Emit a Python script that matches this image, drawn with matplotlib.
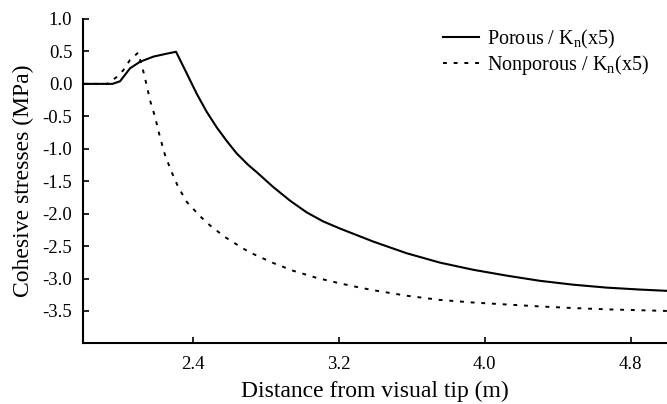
import numpy as np
import matplotlib
matplotlib.use('Agg')
import matplotlib.pyplot as plt

# values
porous_x = [1.80, 1.96, 2.001, 2.056, 2.11, 2.184, 2.248, 2.308, 2.367, 2.421, 2.476,
            2.531, 2.586, 2.64, 2.704, 2.75, 2.841, 2.933, 3.024, 3.115, 3.207, 3.298,
            3.389, 3.572, 3.755, 3.937, 4.12, 4.302, 4.485, 4.668, 4.85, 5.0]
porous_y = [0.0, 0.0, 0.04, 0.24, 0.34, 0.42, 0.46, 0.495, 0.16, -0.15, -0.43,
            -0.67, -0.88, -1.07, -1.25, -1.36, -1.59, -1.80, -1.98, -2.12, -2.23, -2.33,
            -2.43, -2.61, -2.755, -2.865, -2.955, -3.035, -3.095, -3.14, -3.17, -3.19]

nonporous_x = [1.80, 1.93, 1.98, 2.019, 2.056, 2.10, 2.129, 2.147, 2.165, 2.193, 2.22,
               2.248, 2.284, 2.32, 2.367, 2.44, 2.494, 2.576, 2.677, 2.73, 2.84, 2.95,
               3.079, 3.207, 3.316, 3.389, 3.572, 3.755, 3.937, 4.12, 4.30, 4.485,
               4.668, 5.0]
nonporous_y = [0.0, 0.0, 0.10, 0.21, 0.37, 0.48, 0.19, -0.02, -0.25, -0.51, -0.82,
               -1.10, -1.36, -1.59, -1.82, -2.04, -2.18, -2.36, -2.54, -2.62, -2.76, -2.88,
               -2.99, -3.075, -3.14, -3.18, -3.265, -3.33, -3.37, -3.40, -3.43, -3.455,
               -3.475, -3.50]

x_ticks = [2.4, 3.2, 4.0, 4.8]
y_ticks = [-3.5, -3.0, -2.5, -2.0, -1.5, -1.0, -0.5, 0.0, 0.5, 1.0]

plt.rcParams['font.family'] = ['Liberation Serif', 'DejaVu Serif']
plt.rcParams['mathtext.fontset'] = 'custom'
plt.rcParams['mathtext.rm'] = 'Liberation Serif'
plt.rcParams['mathtext.it'] = 'Liberation Serif'

fig = plt.figure(figsize=(6.67, 4.04), dpi=100)
ax = fig.add_axes([0.125, 0.150, 0.875, 0.803])

ax.plot(porous_x, porous_y, color='black', lw=1.5, label=r'Porous / K$_\mathrm{n}$(x5)')
ax.plot(nonporous_x, nonporous_y, color='black', lw=1.4, linestyle=(0, (2, 3.5)),
        label=r'Nonporous / K$_\mathrm{n}$(x5)')

ax.set_xlim(1.8, 5.0)
ax.set_ylim(-4.0, 1.0)
ax.set_xticks(x_ticks)
ax.set_xticklabels(['%.1f' % v for v in x_ticks])
ax.set_yticks(y_ticks)
ax.set_yticklabels(['%.1f' % v for v in y_ticks])

for s in ['top', 'right']:
    ax.spines[s].set_visible(False)
for s in ['left', 'bottom']:
    ax.spines[s].set_linewidth(1.5)
ax.tick_params(direction='in', length=4, width=1.2, labelsize=13.5)
ax.tick_params(axis='y', pad=8)
ax.tick_params(axis='x', pad=9)

ax.set_xlabel('Distance from visual tip (m)', fontsize=17, labelpad=6)
ax.set_ylabel('Cohesive stresses (MPa)', fontsize=17, labelpad=6)

ax.legend(loc='upper right', bbox_to_anchor=(1.0, 1.028), frameon=False, fontsize=14.5,
          handlelength=1.8, handletextpad=0.4, labelspacing=0.08)

fig.savefig('out.png', dpi=100)
